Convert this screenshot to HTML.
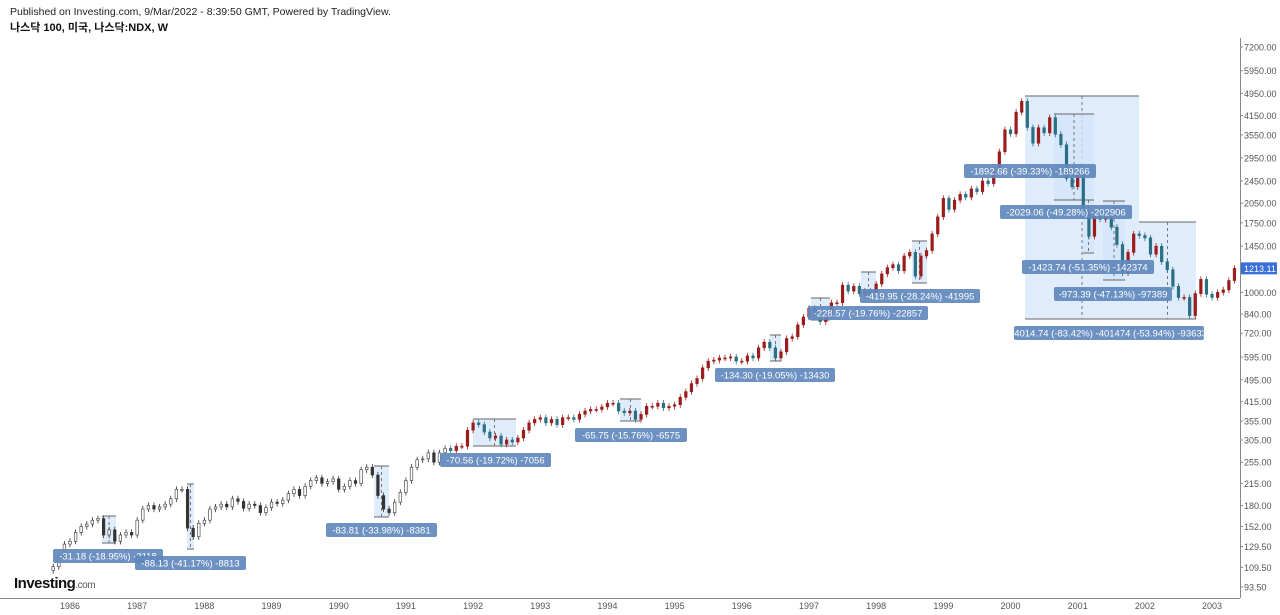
<!DOCTYPE html>
<html><head><meta charset="utf-8"><style>
body{margin:0;background:#fff;font-family:"Liberation Sans","Noto Sans CJK KR",sans-serif;}
#wrap{position:relative;width:1280px;height:615px;overflow:hidden;}
</style></head><body>
<div id="wrap">
<svg id="chart" width="1280" height="615" xmlns="http://www.w3.org/2000/svg">
<text x="10" y="15" font-size="10.5" fill="#222">Published on Investing.com, 9/Mar/2022 - 8:39:50 GMT, Powered by TradingView.</text>
<text x="10" y="31" font-size="11" font-weight="bold" fill="#111" font-family="Liberation Sans, Noto Sans CJK KR, sans-serif">나스닥 100, 미국, 나스닥:NDX, W</text>
<g id="boxes"></g>
<g id="candles"></g>
<g id="labels"></g>
<line x1="0" y1="598.5" x2="1240" y2="598.5" stroke="#888"/>
<line x1="1240.5" y1="38" x2="1240.5" y2="598" stroke="#888"/>
<g id="yaxis"></g>
<g id="xaxis"></g>
<text x="14" y="588" font-size="15" font-weight="bold" fill="#111" letter-spacing="-0.5">Investing<tspan font-size="10" font-weight="normal" fill="#555">.com</tspan></text>
</svg>
</div>
<script>
const startYear = 1985.75;
const closes = [110,119,132,
135,145,152,155,160,162,142,148,135,142,145,142,
160,175,180,175,178,182,190,205,205,150,140,156,
160,175,178,182,178,190,186,176,182,180,170,177,
185,183,188,198,205,195,210,220,225,215,218,223,
205,210,220,215,240,245,230,195,175,170,185,200,
220,245,260,262,275,255,275,285,280,290,290,330,
350,345,325,310,315,295,305,300,310,330,350,360,
365,350,360,345,365,365,360,375,385,390,390,398,
410,410,385,380,385,360,375,400,400,410,395,400,
405,430,450,480,500,545,575,580,590,590,595,575,
575,600,590,640,670,640,590,620,690,700,770,820,
880,830,790,830,920,920,1060,1010,1050,990,1010,990,
1070,1160,1220,1250,1190,1340,1380,1140,1340,1400,1600,1836,
2130,1950,2100,2200,2150,2300,2250,2450,2400,2650,3100,3700,
3580,4260,4650,3770,3320,3760,3610,4080,3570,3280,2500,2340,
2590,1900,1570,1850,1800,1830,1690,1470,1170,1380,1600,1580,
1550,1360,1450,1280,1200,1050,960,960,830,990,1110,985,
960,1000,1020,1100,1213];
const yTicks = ["7200.00","5950.00","4950.00","4150.00","3550.00","2950.00","2450.00","2050.00","1750.00","1450.00","1000.00","840.00","720.00","595.00","495.00","415.00","355.00","305.00","255.00","215.00","180.00","152.00","129.50","109.50","93.50"];
const xYears = [1986,1987,1988,1989,1990,1991,1992,1993,1994,1995,1996,1997,1998,1999,2000,2001,2002,2003];
const lastPrice = "1213.11";

const NS="http://www.w3.org/2000/svg";
const yS = v => 47 + (Math.log(7200) - Math.log(v)) * 124.3;
const xS = t => 70 + (t - 1986) * 67.18;
function mk(tag, attrs, parent){const e=document.createElementNS(NS,tag);for(const k in attrs)e.setAttribute(k,attrs[k]);parent.appendChild(e);return e;}

const yg=document.getElementById('yaxis');
yTicks.forEach(t=>{const y=yS(parseFloat(t));
 const tx=mk('text',{x:1244,y:y+3.5,'font-size':9,fill:'#555'},yg);tx.textContent=t;
 
 
 mk('line',{x1:1240,x2:1243,y1:y,y2:y,stroke:'#888'},yg);});
const py=yS(parseFloat(lastPrice));
const pr=mk('rect',{x:1241,y:py-6,width:36,height:12,fill:'#3a6fd8'},yg);


const pt=mk('text',{x:1244,y:py+3.5,'font-size':9,fill:'#fff'},yg);pt.textContent=lastPrice;



const xg=document.getElementById('xaxis');
xYears.forEach(yr=>{const x=xS(yr);
 const tx=mk('text',{x:x,y:609,'font-size':9,fill:'#555','text-anchor':'middle'},xg);tx.textContent=yr;
 
 });

const cg=document.getElementById('candles');
let prev=closes[0]*0.97;
closes.forEach((c,i)=>{
 const t=startYear+i/12, x=xS(t);
 const o=prev, hi=Math.max(o,c)*1.025, lo=Math.min(o,c)*0.975;
 const up=c>=o, early=t<1991.6;
 const col= early? '#333' : (up?'#9a1c1c':'#2b6f82');
 const g=mk('g',{},cg);
 
 
 mk('line',{x1:x,x2:x,y1:yS(hi),y2:yS(lo),stroke:col,'stroke-width':0.8},g);
 const top=yS(Math.max(o,c)), bot=yS(Math.min(o,c));
 mk('rect',{x:x-1.3,y:top,width:2.6,height:Math.max(1,bot-top),fill:early&&up?'#fff':col,stroke:col,'stroke-width':0.6},g);
 prev=c;});

const boxes=[[102,516,14,27],[187,484,7,65],[374,466,15,51],[473,419,43,27],[620,399,21,22],[770,335,11,26],[811,298,19,22],[861,272,15,22],[912,241,15,42],[1025,96,114,223],[1139,222,57,97],[1054,114,40,86],[1083,200,11,53],[1103,201,22,79]];
const bg=document.getElementById('boxes');
boxes.forEach(b=>{const r=mk('rect',{x:b[0],y:b[1],width:b[2],height:b[3],fill:'#d4e6fb','fill-opacity':0.75},bg);
 
 
 mk('line',{x1:b[0],x2:b[0]+b[2],y1:b[1],y2:b[1],stroke:'#666','stroke-width':1},bg);
 mk('line',{x1:b[0],x2:b[0]+b[2],y1:b[1]+b[3],y2:b[1]+b[3],stroke:'#666','stroke-width':1},bg);
 mk('line',{x1:b[0]+b[2]*0.5,x2:b[0]+b[2]*0.5,y1:b[1],y2:b[1]+b[3],stroke:'#777','stroke-dasharray':'3,3'},bg);});

const labs=[[53,549,110,"-31.18 (-18.95%) -3118"],[135,556,111,"-88.13 (-41.17%) -8813"],[326,523,111,"-83.81 (-33.98%) -8381"],[440,453,111,"-70.56 (-19.72%) -7056"],[575,428,112,"-65.75 (-15.76%) -6575"],[715,368,120,"-134.30 (-19.05%) -13430"],[808,306,120,"-228.57 (-19.76%) -22857"],[860,289,120,"-419.95 (-28.24%) -41995"],[964,164,132,"-1892.66 (-39.33%) -189266"],[1000,205,132,"-2029.06 (-49.28%) -202906"],[1022,260,132,"-1423.74 (-51.35%) -142374"],[1054,287,118,"-973.39 (-47.13%) -97389"],[1014,326,190,"-4014.74 (-83.42%) -401474 (-53.94%) -93633"]];
const lg=document.getElementById('labels');
labs.forEach(l=>{const r=mk('rect',{x:l[0],y:l[1],width:l[2],height:14,rx:2,fill:'#5f88bd','fill-opacity':0.92},lg);
 
 
 const t=mk('text',{x:l[0]+l[2]/2,y:l[1]+10.5,'font-size':9.5,fill:'#fff','text-anchor':'middle'},lg);t.textContent=l[3];
 
 });
</script>
</body></html>
